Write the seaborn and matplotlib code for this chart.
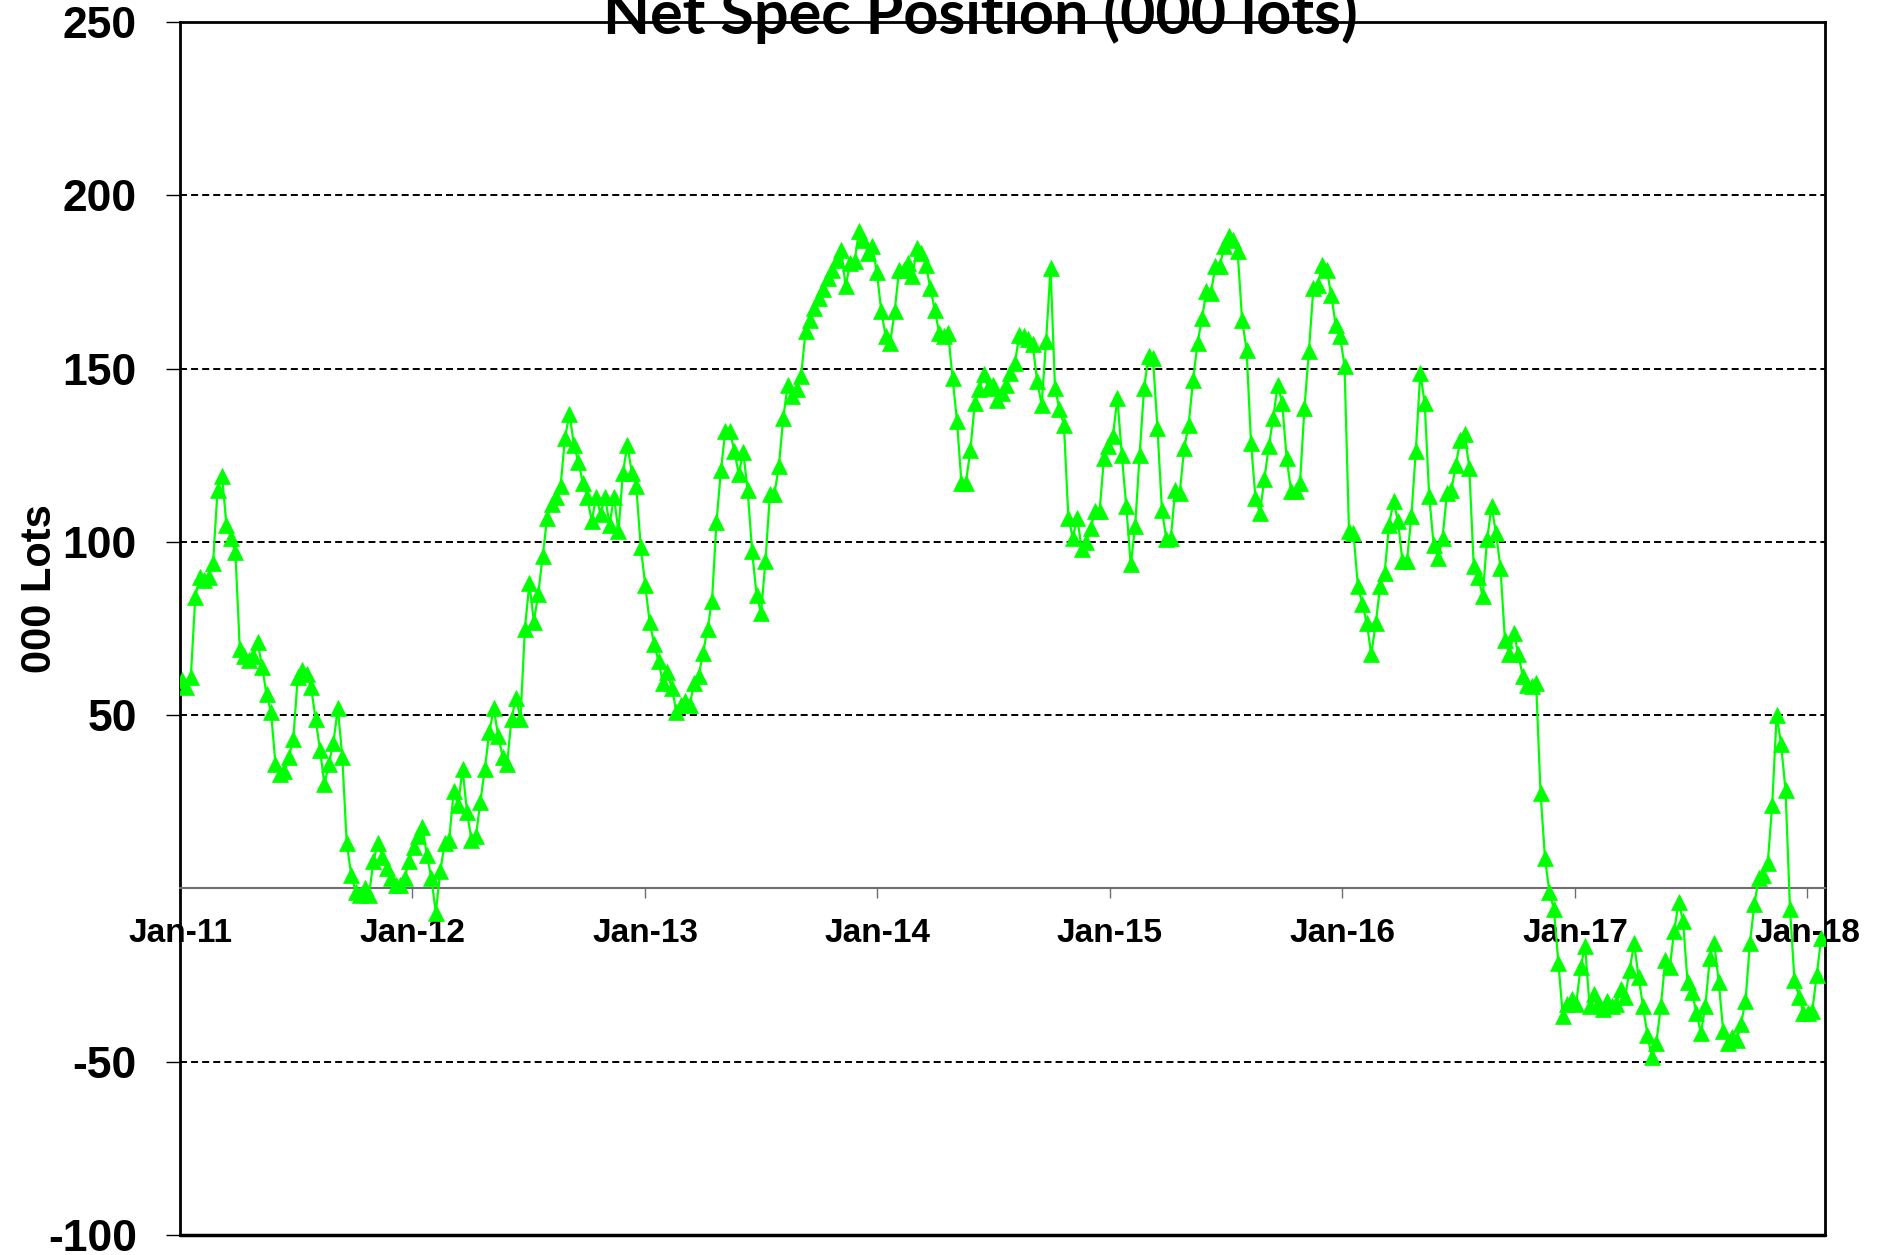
import pandas as pd
import seaborn as sns
import matplotlib.pyplot as plt
import matplotlib.dates as mdates

OUTPUT_PATH = "out.png"

# weekly net spec position, thousand lots
y2011 = [60, 58, 61, 84, 90, 89, 90, 94, 115, 119,
         105, 101, 97, 69, 67, 66, 67, 71, 64, 56,
         51, 36, 33, 34, 38, 43, 61, 63, 62, 58,
         49, 40, 30, 36, 42, 52, 38, 13, 4, -1,
         -2, 0, -2, 8, 13, 9, 6, 3, 1, 1,
         3, 8]
y2012 = [12, 15, 17.6, 9.6, 3, -7, 5, 13, 14, 28,
         24, 34.5, 22, 14, 15, 25, 34.5, 45, 52, 44,
         38, 36, 49, 55, 49, 75, 88, 77, 85, 96,
         107, 111, 113, 116, 130, 137, 128, 123, 117, 113,
         106, 113, 108, 113, 105, 113, 103, 120, 128, 120,
         116, 98.5]
y2013 = [87.6, 76.8, 70.6, 65.5, 59.3, 62.4, 57.7, 51, 53, 54,
         53, 59.3, 61.3, 68, 75, 83, 105.7, 120.6, 132, 132,
         126.3, 119.6, 126, 115, 97.3, 84.8, 79.5, 94.4, 113.7, 113.7,
         121.8, 135.8, 145.4, 142, 144, 147.8, 160.8, 164, 167.5, 170.4,
         173, 176, 178.5, 181.4, 184.3, 173.7, 180.5, 181, 189.6, 187.2,
         183.4, 185.3, 178]
y2014 = [166.5, 159.3, 157.4, 166.5, 178.5, 178.5, 180.5, 176.6, 184.8, 183.4,
         180, 173.3, 167, 160.3, 159.3, 160.3, 147.3, 134.8, 117, 117,
         126.6, 140, 144, 148.3, 144.4, 145.4, 141, 143, 145.4, 148.8,
         151.6, 159.8, 159.3, 158.4, 157, 146.3, 139.6, 157.9, 179, 144.4,
         138.2, 133.8, 107, 101.2, 107, 97.8, 100, 104, 108.8, 108.8,
         124.2, 127.6]
y2015 = [130.5, 141.5, 125, 110.3, 93.5, 104.5, 125.2, 144.4, 153.6, 153,
         132.9, 109.3, 100.7, 101.2, 115, 114, 127, 133.8, 146.8, 157.4,
         164.6, 172.3, 171.8, 179.5, 179.5, 185.3, 188.2, 187.2, 183.8, 164,
         155.5, 128.6, 112.7, 108.4, 118, 127.6, 135.8, 145.4, 140, 124.2,
         114.6, 114.6, 117, 138.7, 155, 173.3, 174.2, 180, 178.5, 171.3,
         162.7, 159.3, 150.7]
y2016 = [103, 102.6, 87.2, 82, 76.6, 67.5, 76.6, 87.2, 91, 105,
         111.7, 106, 94.4, 94.4, 107.4, 126.2, 148.8, 140, 113.2, 99.2,
         95.4, 101.2, 114, 115, 122.3, 129.5, 131, 121.3, 93, 90,
         84.3, 100.7, 110.3, 102.6, 92.5, 71.8, 67.5, 73.8, 67.5, 61.3,
         58.8, 58.4, 59.3, 27.6, 8.7, -1.1, -6, -21.4, -36.8, -33.3,
         -32]
y2017 = [-33.3, -22.8, -16.5, -34, -30.5, -33.3, -34.7, -32.6, -34, -33.3,
         -29, -31.2, -23.5, -15.8, -25.6, -34, -42.4, -48.7, -44.5, -34,
         -20.7, -22.8, -12.3, -3.9, -9.5, -27, -29.8, -36, -41.7, -34,
         -20, -15.8, -27, -41, -44.5, -43, -43.8, -39, -32.6, -15.8,
         -4.6, 3, 3.8, 7.3, 24, 50, 41.6, 28.3, -6, -26.3,
         -31.2, -36, -36]
y2018 = [-35.4, -25, -14.4]

FIRST_WEEK = "2011-01-04"
Y_TICKS = [-100, -50, 50, 100, 150, 200, 250]
GRID_LEVELS = [-50, 50, 100, 150, 200]
TITLE = "Net Spec Position (000 lots)"
Y_LABEL = "000 Lots"


def build_frame():
    lots = y2011 + y2012 + y2013 + y2014 + y2015 + y2016 + y2017 + y2018
    dates = pd.date_range(FIRST_WEEK, periods=len(lots), freq="7D")
    return pd.DataFrame({"date": dates, "lots": lots})


def plot_chart(df):
    sns.set_style("white")
    plt.rcParams["font.family"] = ["Liberation Sans", "DejaVu Sans"]
    plt.rcParams["font.weight"] = "bold"
    plt.rcParams["text.color"] = "black"

    fig = plt.figure(figsize=(18.78, 12.55), dpi=100)
    ax = fig.add_axes([180 / 1878, 1 - 1235 / 1255, 1645 / 1878, 1213 / 1255])
    ax.patch.set_visible(False)

    for level in GRID_LEVELS:
        ax.axhline(level, color="black", lw=1.4, ls=(0, (3.6, 2.1)), zorder=1)

    sns.lineplot(data=df, x="date", y="lots", ax=ax, color="#00ff00",
                 marker="^", markersize=11, markeredgecolor="#00ff00",
                 markeredgewidth=0.5, linewidth=1.6, zorder=3)

    ax.set_ylim(-100, 250)
    ax.set_xlim(pd.Timestamp("2011-01-01"), pd.Timestamp("2018-01-29"))
    ax.set_yticks(Y_TICKS)
    ax.set_yticklabels([str(v) for v in Y_TICKS])
    ax.tick_params(axis="y", direction="out", length=10, width=1, pad=21,
                   left=True, color="black", labelcolor="black", labelsize=32)

    ax.xaxis.set_major_locator(mdates.YearLocator())
    ax.xaxis.set_major_formatter(mdates.DateFormatter("%b-%y"))
    ax.tick_params(axis="x", direction="out", length=7, width=1, pad=14,
                   bottom=True, color="#6e6e6e", labelcolor="black",
                   labelsize=24)

    # x axis sits on the zero line, the frame is closed at -100
    ax.spines["bottom"].set_position(("data", 0))
    ax.spines["bottom"].set_color("#6e6e6e")
    ax.spines["bottom"].set_linewidth(1.5)
    for side in ["left", "right", "top"]:
        ax.spines[side].set_color("black")
        ax.spines[side].set_linewidth(2)
    ax.axhline(-100, color="black", lw=2.5, clip_on=False, zorder=4)

    ax.set_xlabel("")
    ax.set_ylabel("")
    fig.text(40 / 1878, 1 - 589 / 1255, Y_LABEL, rotation=90, ha="center",
             va="center", fontsize=30, fontweight="bold")
    fig.text(980 / 1878, 1 - 34 / 1255, TITLE, ha="center", va="baseline",
             fontsize=44, fontweight="bold", family=["Lato", "DejaVu Sans"],
             zorder=-1)

    fig.savefig(OUTPUT_PATH, dpi=100)


if __name__ == "__main__":
    plot_chart(build_frame())
